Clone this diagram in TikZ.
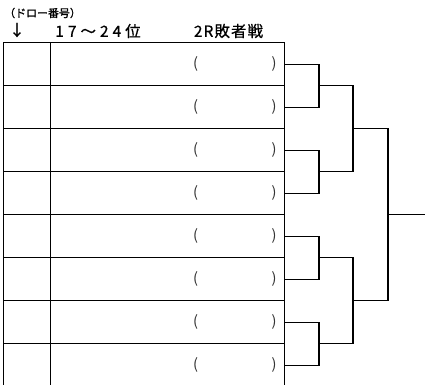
\documentclass[tikz,border=0pt]{standalone}
\usepackage{fontspec}
\setmainfont{Noto Sans CJK JP}[FakeBold=0.8]
\newfontfamily\jpspaced{Noto Sans CJK JP}[LetterSpace=26,FakeBold=0.8]
\newfontfamily\jpsemi{Noto Sans CJK JP}[LetterSpace=7,FakeBold=0.8]
\newfontfamily\jpthin{Noto Sans CJK JP}
\begin{document}
\begin{tikzpicture}[x=0.75pt,y=-0.75pt]
\tikzset{
  cell/.style={draw, line width=0.7pt, minimum height=32.25pt, inner sep=0pt, outer sep=0pt, anchor=north west},
  numcell/.style={cell, minimum width=35.25pt},
  namecell/.style={cell, minimum width=175.5pt},
  bracket/.style={line width=1pt},
  paren/.style={font=\jpthin\fontsize{11}{13}\selectfont, text=black!80, inner sep=0pt},
  head/.style={font=\fontsize{11.6}{14}\selectfont, inner sep=0pt},
  small/.style={font=\fontsize{8.2}{10}\selectfont, inner sep=0pt, anchor=west}
}
\useasboundingbox (0,0) rectangle (425,385);
\clip (0,0) rectangle (425,385);
% headers
\node[small] (drawno) at (4,13) {（ドロー番号）};
\node[head] (arrowdown) at (17,30) {↓};
\node[head] (rank) at (98,31) {\jpspaced 17～24位};
\node[head] (round) at (228.5,31) {\jpsemi 2R敗者戦};
% rows
\foreach \i in {1,...,8} {
  \node[numcell] (n\i) at (3,{42.7+43*(\i-1)}) {};
  \node[namecell] (c\i) at (50,{42.7+43*(\i-1)}) {};
  \node[paren] (lp\i) at (195.5,{63.5+43*(\i-1)}) {(};
  \node[paren] (rp\i) at (274,{63.5+43*(\i-1)}) {)};
}
% bracket junctions
\coordinate (a1) at (319,85.7);
\coordinate (a2) at (319,171.7);
\coordinate (a3) at (319,257.7);
\coordinate (a4) at (319,343.7);
\coordinate (b1) at (353,128.7);
\coordinate (b2) at (353,300.7);
\coordinate (f) at (388,214.7);
\coordinate (out) at (425,214.7);
\draw[bracket] (c1.east) -| (a1) |- (c2.east);
\draw[bracket] (c3.east) -| (a2) |- (c4.east);
\draw[bracket] (c5.east) -| (a3) |- (c6.east);
\draw[bracket] (c7.east) -| (a4) |- (c8.east);
\draw[bracket] (a1) -| (b1) |- (a2);
\draw[bracket] (a3) -| (b2) |- (a4);
\draw[bracket] (b1) -| (f) |- (b2);
\draw[bracket] (f) -- (out);
\end{tikzpicture}
\end{document}
